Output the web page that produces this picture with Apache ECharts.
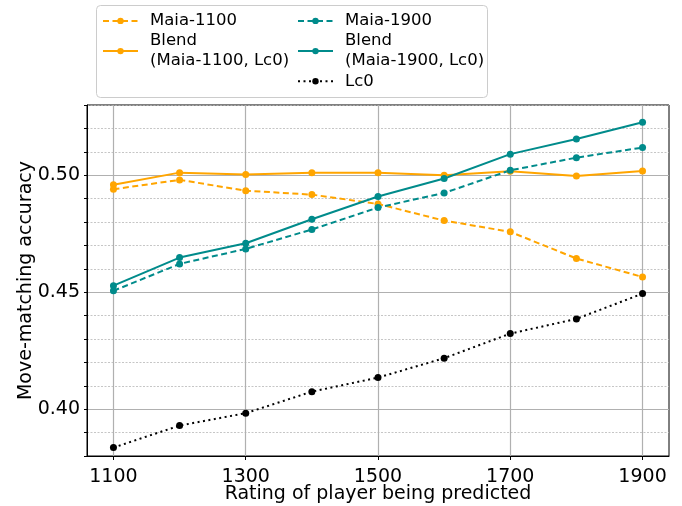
<!DOCTYPE html>
<html>
<head>
<meta charset="utf-8">
<script src="https://cdn.jsdelivr.net/npm/echarts@6/dist/echarts.min.js"></script>
<style>
  html, body { margin: 0; padding: 0; background: #fff; }
  #chart { width: 682px; height: 506px; }
</style>
</head>
<body>
<div id="chart"></div>
<script>
var ratings = [1100, 1200, 1300, 1400, 1500, 1600, 1700, 1800, 1900];
var maia1100 = [0.4940, 0.4980, 0.4934, 0.4917, 0.4877, 0.4806, 0.4758, 0.4644, 0.4565];
var blend1100 = [0.4959, 0.5011, 0.5003, 0.5011, 0.5011, 0.5000, 0.5017, 0.4997, 0.5018];
var maia1900 = [0.4506, 0.4621, 0.4685, 0.4768, 0.4862, 0.4924, 0.5021, 0.5075, 0.5118];
var blend1900 = [0.4528, 0.4648, 0.4709, 0.4812, 0.4909, 0.4986, 0.5090, 0.5155, 0.5226];
var lc0 = [0.3836, 0.3930, 0.3983, 0.4075, 0.4135, 0.4218, 0.4323, 0.4386, 0.4494];
var xTicks = [1100, 1300, 1500, 1700, 1900];
var yTicks = [0.40, 0.45, 0.50];

(function () {
  var orange = '#ffa500';
  var teal = '#008b8b';
  var gridMajor = '#b0b0b0';
  var gridMinor = '#b8b8b8';
  var font = 'DejaVu Sans';

  function pairs(vals) {
    return ratings.map(function (r, i) { return [r, vals[i]]; });
  }

  function line(name, vals, color, type) {
    return {
      name: name,
      type: 'line',
      data: pairs(vals),
      xAxisIndex: 0,
      yAxisIndex: 0,
      symbol: 'circle',
      symbolSize: 7,
      itemStyle: { color: color },
      lineStyle: { color: color, width: 2, type: type },
      emphasis: { disabled: true },
      z: 3
    };
  }

  var xRange = { min: 1060, max: 1940 };
  var yRange = { min: 0.38, max: 0.53 };
  var legendText = { fontFamily: font, fontSize: 16.5, color: '#000', lineHeight: 19.8, padding: [0, 0, 0, 7] };

  var chart = echarts.init(document.getElementById('chart'), null, { renderer: 'canvas' });
  chart.setOption({
    animation: false,
    textStyle: { fontFamily: font },
    grid: {
      left: 87, right: 13, top: 105, bottom: 50,
      outerBoundsMode: 'none', containLabel: false,
      show: true, borderColor: '#000', borderWidth: 1, backgroundColor: 'transparent'
    },
    graphic: [{
      type: 'rect',
      shape: { x: 96.5, y: 5.5, width: 391, height: 92, r: 4 },
      style: { fill: 'rgba(255,255,255,0.8)', stroke: '#cccccc', lineWidth: 1 },
      z: 90
    }],
    legend: [
      {
        left: 102, top: 11, orient: 'vertical', padding: 0,
        itemWidth: 35, itemHeight: 8, itemGap: 0.5,
        data: ['Maia-1100', 'Blend\n(Maia-1100, Lc0)'],
        textStyle: legendText,
        selectedMode: false, z: 100
      },
      {
        left: 297, top: 11, orient: 'vertical', padding: 0,
        itemWidth: 35, itemHeight: 8, itemGap: 0.5,
        data: ['Maia-1900', 'Blend\n(Maia-1900, Lc0)', 'Lc0'],
        textStyle: legendText,
        selectedMode: false, z: 100
      }
    ],
    xAxis: [
      {
        type: 'value', min: xRange.min, max: xRange.max, interval: 40,
        name: 'Rating of player being predicted', nameLocation: 'middle', nameGap: 29,
        nameMoveOverlap: false,
        nameTextStyle: { fontSize: 19, color: '#000', fontFamily: font },
        axisLine: { show: true, lineStyle: { color: '#000', width: 1 } },
        axisTick: { show: true, length: 4, customValues: xTicks, lineStyle: { color: '#000' } },
        axisLabel: {
          customValues: xTicks, fontSize: 19, color: '#000', margin: 12, fontFamily: font,
          formatter: function (v) { return String(v); }
        },
        splitLine: { show: false }
      },
      {
        type: 'value', min: xRange.min, max: xRange.max, interval: 40,
        axisLine: { show: false }, axisTick: { show: false }, axisLabel: { show: false },
        splitLine: {
          show: true,
          lineStyle: { color: ['transparent', gridMajor, 'transparent', 'transparent', 'transparent'], width: 1.2 }
        }
      }
    ],
    yAxis: [
      {
        type: 'value', min: yRange.min, max: yRange.max, interval: 0.01,
        name: 'Move-matching accuracy', nameLocation: 'middle', nameGap: 51,
        nameMoveOverlap: false,
        nameTextStyle: { fontSize: 19, color: '#000', fontFamily: font },
        axisLine: { show: true, lineStyle: { color: '#000', width: 1 } },
        axisTick: { show: true, length: 3, lineStyle: { color: '#000' } },
        axisLabel: {
          customValues: yTicks, fontSize: 19, color: '#000', margin: 7, fontFamily: font,
          formatter: function (v) { return v.toFixed(2); }
        },
        splitLine: { show: false }
      },
      {
        type: 'value', min: yRange.min, max: yRange.max, interval: 0.01,
        axisLine: { show: false }, axisTick: { show: false }, axisLabel: { show: false },
        splitLine: {
          show: true,
          lineStyle: { color: [gridMinor, gridMinor, 'transparent', gridMinor, gridMinor], width: 0.8, type: [2, 1.5] }
        }
      },
      {
        type: 'value', min: yRange.min, max: yRange.max, interval: 0.01,
        axisLine: { show: false }, axisTick: { show: false }, axisLabel: { show: false },
        splitLine: {
          show: true,
          lineStyle: { color: ['transparent', 'transparent', gridMajor, 'transparent', 'transparent'], width: 1.2 }
        }
      }
    ],
    series: [
      line('Maia-1100', maia1100, orange, [6, 3.5]),
      line('Blend\n(Maia-1100, Lc0)', blend1100, orange, 'solid'),
      line('Maia-1900', maia1900, teal, [6, 3.5]),
      line('Blend\n(Maia-1900, Lc0)', blend1900, teal, 'solid'),
      line('Lc0', lc0, '#000', [2, 3.5])
    ]
  });
})();
</script>
</body>
</html>
